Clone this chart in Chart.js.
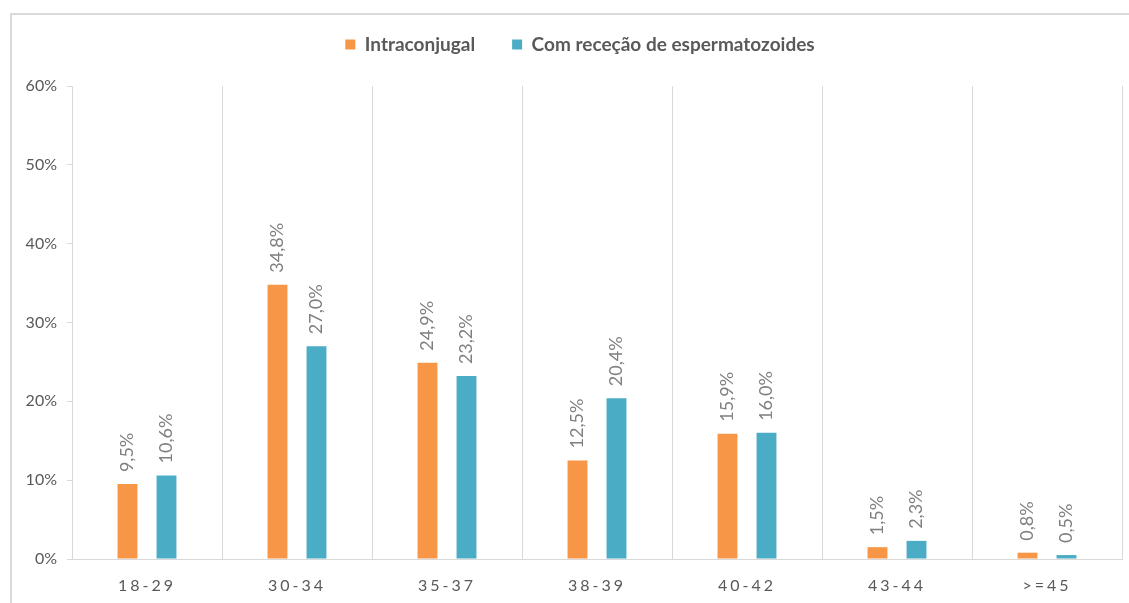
<!DOCTYPE html>
<html>
<head>
<meta charset="utf-8">
<script src="https://cdn.jsdelivr.net/npm/chart.js@4.4.1/dist/chart.umd.min.js"></script>
<style>
  html, body { margin: 0; padding: 0; background: #fff; }
  .wrap { position: relative; width: 1129px; height: 603px; }
  .frame { position: absolute; left: 10px; top: 13px; right: -5px; bottom: -5px;
           border-left: 2px solid #d9d9d9; border-top: 2px solid #d9d9d9; }
  canvas { position: absolute; left: 0; top: 0; }
</style>
</head>
<body>
<div class="wrap">
  <div class="frame"></div>
  <canvas id="chart" width="1129" height="603"></canvas>
</div>
<script>
const categories = ["18-29", "30-34", "35-37", "38-39", "40-42", "43-44", ">=45"];
const intraconjugal = [9.5, 34.8, 24.9, 12.5, 15.9, 1.5, 0.8];
const comRececao = [10.6, 27.0, 23.2, 20.4, 16.0, 2.3, 0.5];
const yTicks = [0, 10, 20, 30, 40, 50, 60];

const grey = "#595959";
const lineGrey = "#d9d9d9";

const fmt = v => v.toFixed(1).replace(".", ",") + "%";

// rotated value labels above each bar, then letter spacing for the x labels
const barLabels = {
  id: "barLabels",
  afterDatasetsDraw(chart) {
    const ctx = chart.ctx;
    ctx.save();
    ctx.font = "18px Lato";
    ctx.fillStyle = "#7f7f7f";
    ctx.textAlign = "left";
    ctx.textBaseline = "middle";
    chart.data.datasets.forEach((ds, i) => {
      chart.getDatasetMeta(i).data.forEach((bar, j) => {
        ctx.save();
        ctx.translate(bar.x, bar.y - 12);
        ctx.rotate(-Math.PI / 2);
        ctx.fillText(fmt(ds.data[j]), 0, 0);
        ctx.restore();
      });
    });
    ctx.restore();
    ctx.letterSpacing = "3px";
  },
  afterDraw(chart) {
    chart.ctx.letterSpacing = "0px";
  }
};

const chart = new Chart(document.getElementById("chart"), {
  type: "bar",
  data: {
    labels: categories,
    datasets: [
      { label: "Intraconjugal", data: intraconjugal, backgroundColor: "#f79646" },
      { label: "Com receção de espermatozoides", data: comRececao, backgroundColor: "#4bacc6" }
    ]
  },
  options: {
    responsive: false,
    animation: false,
    barPercentage: 0.51,
    categoryPercentage: 0.52,
    layout: { padding: { left: 10, right: 7, top: -2, bottom: 0 } },
    plugins: {
      legend: {
        position: "top",
        labels: {
          boxWidth: 10,
          boxHeight: 10,
          padding: 37,
          color: grey,
          font: { family: "Lato", size: 19, weight: "bold" }
        }
      },
      tooltip: { enabled: false }
    },
    scales: {
      x: {
        grid: { color: lineGrey, drawTicks: false, offset: true },
        border: { color: lineGrey },
        ticks: { z: 1, color: grey, padding: 17, font: { family: "Lato", size: 16 } },
        afterFit: s => { s.height = 44; }
      },
      y: {
        min: 0,
        max: 60,
        afterBuildTicks: s => { s.ticks = yTicks.map(v => ({ value: v })); },
        grid: { drawOnChartArea: false, color: lineGrey, tickLength: 5 },
        border: { color: lineGrey },
        ticks: { color: grey, padding: 10, font: { family: "Lato", size: 16 }, callback: v => v + "%" },
        afterFit: s => { s.width = 62; }
      }
    }
  },
  plugins: [barLabels]
});

// leave room between the legend and the plot, and centre the legend row
const legendFit = chart.legend.fit;
chart.legend.fit = function () {
  legendFit.call(this);
  this.height += 22;
  this.lineWidths[0] -= 28;
};
chart.update();
</script>
</body>
</html>
